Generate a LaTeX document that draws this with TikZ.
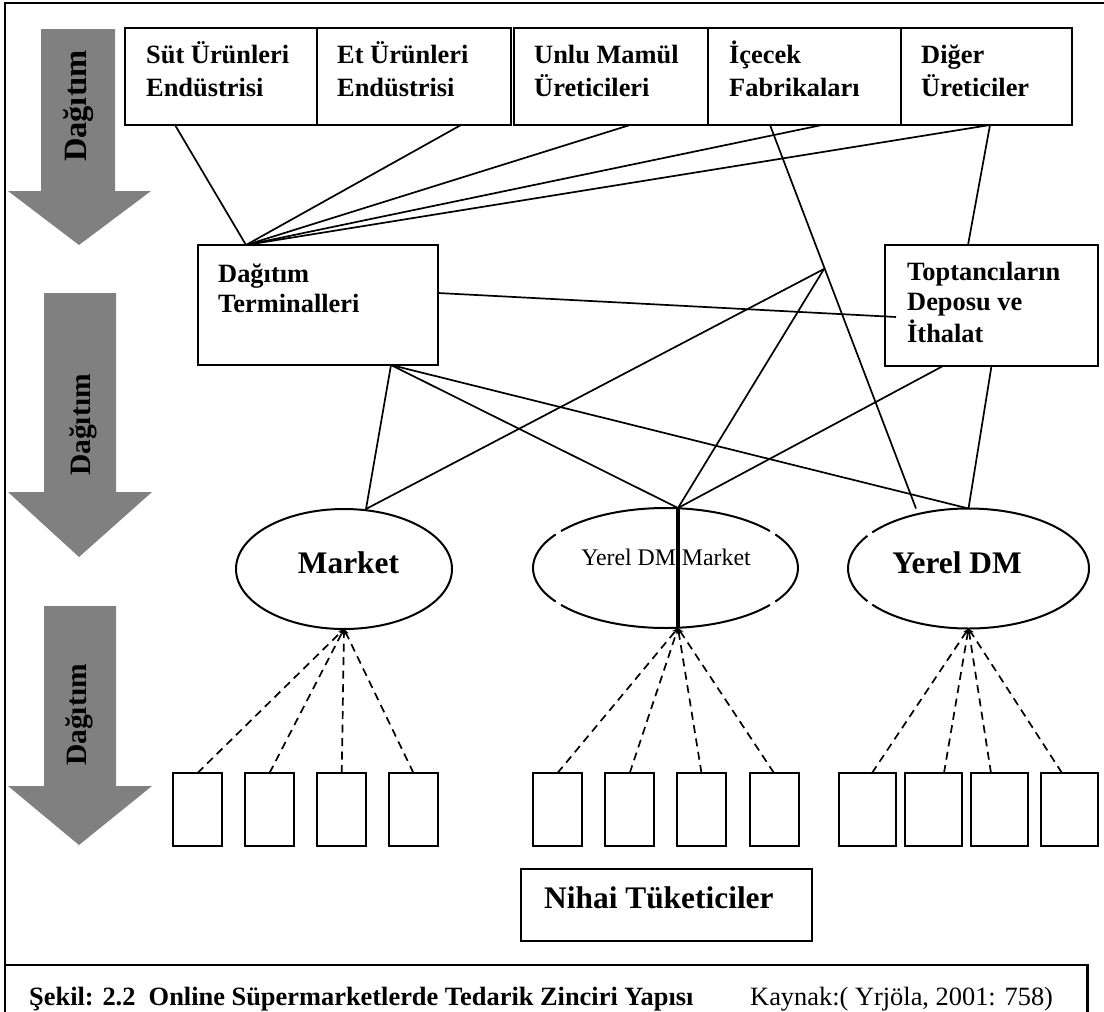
\documentclass[tikz,border=0pt]{standalone}
\usepackage{fontspec}
\setmainfont{Liberation Serif}
\usetikzlibrary{shapes.geometric,arrows.meta}
\definecolor{arrowgray}{RGB}{128,128,128}
\begin{document}
\begin{tikzpicture}[x=1pt,y=-1pt,
  box/.style={draw, line width=2pt, inner sep=0pt, outer sep=0pt},
  topbox/.style={box, minimum height=97pt},
  leaf/.style={box, minimum height=73pt},
  conn/.style={line width=1.7pt},
  dconn/.style={line width=1.7pt, dash pattern=on 8pt off 5.5pt, -{Stealth[length=6pt,width=5pt]}},
  lbl/.style={inner sep=0pt, anchor=base west, font=\bfseries\fontsize{26.4pt}{33pt}\selectfont},
  lblb/.style={lbl, font=\bfseries\fontsize{26.4pt}{30.5pt}\selectfont},
  big/.style={inner sep=0pt, anchor=base, font=\bfseries\fontsize{31.4pt}{36pt}\selectfont},
  dag/.style={inner sep=0pt, rotate=90, font=\bfseries\fontsize{29.5pt}{36pt}\selectfont},
  ell/.style={ellipse, inner sep=0pt, outer sep=0pt, minimum height=120pt},
  frame/.style={line width=2.4pt}
]
\useasboundingbox (0,0) rectangle (1104,1012);
\clip (0,0) rectangle (1104,1012);

% outer frame and caption box
\draw[frame] (5,1030) -- (5,3) -- (1120,3);
\draw[frame] (5,965) -- (1087.5,965) -- (1087.5,1030);

% grey arrows
\fill[arrowgray] (41,29) -- (115,29) -- (115,191) -- (151,191) -- (79,245) -- (8,191) -- (41,191) -- cycle;
\fill[arrowgray] (44,293) -- (116,293) -- (116,492) -- (152,492) -- (79,557) -- (8,492) -- (44,492) -- cycle;
\fill[arrowgray] (44,606) -- (116,606) -- (116,786) -- (152,786) -- (79,845) -- (8,786) -- (44,786) -- cycle;
\node[dag, font=\bfseries\fontsize{32.5pt}{36pt}\selectfont] (dag1) at (79,106) {Dağıtım};
\node[dag] (dag2) at (83,425) {Dağıtım};
\node[dag] (dag3) at (79,715) {Dağıtım};

% producers
\node[topbox, minimum width=192pt] (sut) at (221,76.5) {};
\node[topbox, minimum width=194pt] (et) at (414,76.5) {};
\node[topbox, minimum width=194.5pt] (unlu) at (610.75,76.5) {};
\node[topbox, minimum width=193pt] (icecek) at (804.5,76.5) {};
\node[topbox, minimum width=171pt] (diger) at (986.5,76.5) {};
\node[lbl] (sutL) at (146,63) {\begin{tabular}[t]{@{}l@{}}Süt Ürünleri\\Endüstrisi\end{tabular}};
\node[lbl] (etL) at (337,63) {\begin{tabular}[t]{@{}l@{}}Et Ürünleri\\Endüstrisi\end{tabular}};
\node[lbl] (unluL) at (534,63) {\begin{tabular}[t]{@{}l@{}}Unlu Mamül\\Üreticileri\end{tabular}};
\node[lbl] (icecekL) at (729,63) {\begin{tabular}[t]{@{}l@{}}İçecek\\Fabrikaları\end{tabular}};
\node[lbl] (digerL) at (921,63) {\begin{tabular}[t]{@{}l@{}}Diğer\\Üreticiler\end{tabular}};

% middle boxes
\node[box, minimum width=240.5pt, minimum height=120pt] (dt) at (317.75,305) {};
\node[lblb] (dtL) at (218,282) {\begin{tabular}[t]{@{}l@{}}Dağıtım\\Terminalleri\end{tabular}};
\node[box, minimum width=213pt, minimum height=121pt] (topt) at (991.5,305.5) {};
\node[lblb] (toptL) at (907,280) {\begin{tabular}[t]{@{}l@{}}Toptancıların\\Deposu ve\\İthalat\end{tabular}};

% ellipses
\node[ell, draw, line width=2pt, minimum width=216pt] (market) at (344,569) {};
\node[ell, minimum width=265pt] (ydm) at (665.5,568) {};
\node[ell, minimum width=241pt] (yerel) at (968.5,568.5) {};
\foreach \a/\b in {38/142,146/214,218/322,326/394}
  \draw[line width=2pt] (ydm.center) ++(\a:132.5pt and 60pt) arc[start angle=\a, end angle=\b, x radius=132.5pt, y radius=60pt];
\foreach \a/\b in {147/213,217/503}
  \draw[line width=2pt] (yerel.center) ++(\a:120.5pt and 60pt) arc[start angle=\a, end angle=\b, x radius=120.5pt, y radius=60pt];
\node[big] (marketT) at (348.5,573) {Market};
\node[inner sep=0pt, anchor=base, font=\fontsize{23.8pt}{28pt}\selectfont] (ydmT) at (666,565) {Yerel DM Market};
\node[big] (yerelT) at (957,573) {Yerel DM};

% consumer boxes
\node[leaf, minimum width=49pt] (m1) at (197.5,809.5) {};
\node[leaf, minimum width=49pt] (m2) at (269.5,809.5) {};
\node[leaf, minimum width=49pt] (m3) at (341.75,809.5) {};
\node[leaf, minimum width=49pt] (m4) at (413.5,809.5) {};
\node[leaf, minimum width=49pt] (d1) at (557.5,809.5) {};
\node[leaf, minimum width=49pt] (d2) at (629.75,809.5) {};
\node[leaf, minimum width=49pt] (d3) at (701.5,809.5) {};
\node[leaf, minimum width=49pt] (d4) at (774,809.5) {};
\node[leaf, minimum width=57pt] (y1) at (867.5,809.5) {};
\node[leaf, minimum width=57pt] (y2) at (933.5,809.5) {};
\node[leaf, minimum width=57pt] (y3) at (999.5,809.5) {};
\node[leaf, minimum width=57pt] (y4) at (1069.5,809.5) {};

\node[box, minimum width=291pt, minimum height=72pt] (nihai) at (666.5,905) {};
\node[big, anchor=base west] (nihaiT) at (544,908) {Nihai Tüketiciler};

% caption
\node[inner sep=0pt, anchor=base west, font=\bfseries\fontsize{26.4pt}{30pt}\selectfont] (capT) at (29,1005) {Şekil: 2.2~~Online Süpermarketlerde Tedarik Zinciri Yapısı};
\node[inner sep=0pt, anchor=base west, font=\fontsize{26.4pt}{30pt}\selectfont] (srcT) at (750,1005) {Kaynak:( Yrjöla, 2001: 758)};

% coordinates
\coordinate (dtTop) at ([xshift=-71.75pt]dt.north);
\coordinate (dtBot) at ([xshift=73.25pt]dt.south);
\coordinate (X) at (824,269);
\coordinate (mTop) at ([xshift=22pt]market.north);
\coordinate (ydmTop) at ([xshift=12.5pt]ydm.north);
\coordinate (ydmA) at ([xshift=12.5pt]ydm.south);

% solid connectors
\draw[conn] ([xshift=-46pt]sut.south) -- (dtTop);
\draw[conn] ([xshift=47pt]et.south) -- (dtTop);
\draw[conn] ([xshift=19.25pt]unlu.south) -- (dtTop);
\draw[conn] ([xshift=17.5pt]icecek.south) -- (dtTop);
\draw[conn] ([xshift=3.5pt]diger.south) -- (dtTop);
\draw[conn] ([xshift=3.5pt]diger.south) -- ([xshift=-23.5pt]topt.north);
\draw[conn] ([xshift=-34.5pt]icecek.south) -- ([xshift=-52.5pt]yerel.north);
\draw[conn] ([yshift=12pt]dt.east) -- ([xshift=11pt,yshift=-11.5pt]topt.west);
\draw[conn] (X) -- (mTop);
\draw[conn] (X) -- (ydmTop);
\draw[conn] (dtBot) -- (mTop);
\draw[conn] (dtBot) -- (ydmTop);
\draw[conn] (dtBot) -- (yerel.north);
\draw[conn] ([xshift=-48.5pt]topt.south) -- (ydmTop);
\draw[conn] (topt.south) -- (yerel.north);
\draw[line width=3.8pt] (ydmTop) -- (ydmA);

% dashed connectors
\foreach \b in {m1,m2,m3,m4} \draw[dconn] (\b.north) -- (market.south);
\foreach \b in {d1,d2,d3,d4} \draw[dconn] (\b.north) -- (ydmA);
\draw[dconn] ([xshift=4.5pt]y1.north) -- (yerel.south);
\draw[dconn] ([xshift=10.5pt]y2.north) -- (yerel.south);
\draw[dconn] ([xshift=-8.5pt]y3.north) -- (yerel.south);
\draw[dconn] ([xshift=-7.5pt]y4.north) -- (yerel.south);
\end{tikzpicture}
\end{document}
